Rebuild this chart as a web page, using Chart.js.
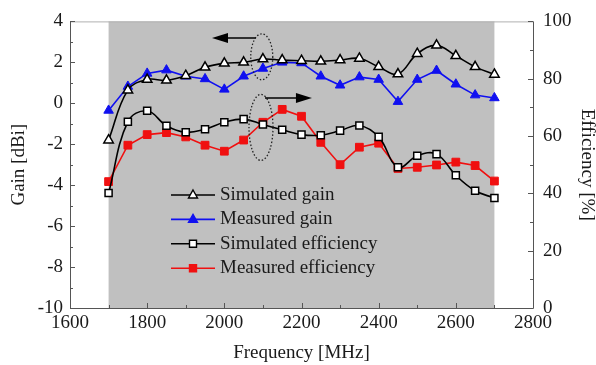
<!DOCTYPE html>
<html>
<head>
<meta charset="utf-8">
<script src="https://cdn.jsdelivr.net/npm/chart.js@4/dist/chart.umd.min.js"></script>
<style>
  html, body { margin: 0; padding: 0; background: #fff; }
</style>
</head>
<body>
<canvas id="grafica" width="596" height="365"></canvas>
<script>
// datos
const frecuencias = [1700, 1750, 1800, 1850, 1900, 1950, 2000, 2050, 2100, 2150, 2200,
                     2250, 2300, 2350, 2400, 2450, 2500, 2550, 2600, 2650, 2700];
const gananciaSimulada = [-1.8, 0.64, 1.16, 1.12, 1.35, 1.76, 1.95, 2.0, 2.16, 2.11, 2.08,
                          2.05, 2.11, 2.19, 1.78, 1.43, 2.42, 2.83, 2.32, 1.78, 1.41];
const gananciaMedida = [-0.35, 0.82, 1.46, 1.62, 1.32, 1.19, 0.68, 1.32, 1.70, 2.0, 1.97,
                        1.32, 0.88, 1.28, 1.16, 0.08, 1.16, 1.60, 0.93, 0.40, 0.26];
const eficienciaSimulada = [40.1, 65.0, 68.8, 63.6, 61.3, 62.4, 64.8, 65.9, 64.0, 62.2, 60.5,
                            60.3, 61.9, 63.7, 59.7, 49.1, 53.1, 53.7, 46.3, 40.9, 38.4];
const eficienciaMedida = [44.1, 56.8, 60.5, 61.2, 59.7, 56.8, 54.7, 58.6, 64.8, 69.3, 66.9,
                          57.8, 50.0, 56.1, 57.5, 48.7, 49.1, 49.9, 50.9, 49.7, 44.3];
const etiquetas = ["Simulated gain", "Measured gain", "Simulated efficiency", "Measured efficiency"];
const bandaGris = [1700, 2700];

const fuente = "'Liberation Serif', 'Times New Roman', serif";
Chart.defaults.font.family = fuente;
Chart.defaults.font.size = 19;
Chart.defaults.color = "#1a1a1a";

const puntos = arr => arr.map((v, i) => ({ x: frecuencias[i], y: v }));

// fondo gris, marco, ticks hacia dentro
const pluginFondo = {
  id: "fondo",
  beforeDatasetsDraw(chart) {
    const { ctx, chartArea: a, scales: { x } } = chart;
    const x0 = x.getPixelForValue(bandaGris[0]);
    const x1 = x.getPixelForValue(bandaGris[1]);
    ctx.save();
    ctx.fillStyle = "#c0c0c0";
    ctx.fillRect(x0, a.top, x1 - x0, a.bottom - a.top);
    ctx.restore();
  },
  afterDraw(chart) {
    const { ctx, chartArea: a, scales: { x, y, y2 } } = chart;
    ctx.save();
    ctx.strokeStyle = "#b0b0b0";
    ctx.lineWidth = 1;
    ctx.beginPath();
    ctx.moveTo(a.left, a.top + 0.5);
    ctx.lineTo(a.right, a.top + 0.5);
    ctx.stroke();
    ctx.strokeStyle = "#555";
    ctx.beginPath();
    ctx.moveTo(a.left + 0.5, a.top);
    ctx.lineTo(a.left + 0.5, a.bottom + 0.5);
    ctx.lineTo(a.right + 0.5, a.bottom + 0.5);
    ctx.lineTo(a.right + 0.5, a.top);
    ctx.stroke();
    ctx.beginPath();
    for (let v = -10; v <= 4; v += 1) {
      const py = Math.round(y.getPixelForValue(v)) + 0.5;
      ctx.moveTo(a.left, py);
      ctx.lineTo(a.left + (v % 2 === 0 ? 5 : 3), py);
    }
    for (let v = 0; v <= 100; v += 10) {
      const py = Math.round(y2.getPixelForValue(v)) + 0.5;
      ctx.moveTo(a.right, py);
      ctx.lineTo(a.right - (v % 20 === 0 ? 5 : 3), py);
    }
    for (let v = 1600; v <= 2800; v += 100) {
      const px = Math.round(x.getPixelForValue(v)) + 0.5;
      ctx.moveTo(px, a.bottom);
      ctx.lineTo(px, a.bottom - (v % 200 === 0 ? 5 : 3));
    }
    ctx.stroke();

    // flechas y elipses punteadas
    const elipse = (cx, cy, rx, ry) => {
      ctx.save();
      ctx.setLineDash([1.5, 2]);
      ctx.strokeStyle = "#222";
      ctx.lineWidth = 1.3;
      ctx.beginPath();
      ctx.ellipse(cx, cy, rx, ry, 0, 0, Math.PI * 2);
      ctx.stroke();
      ctx.restore();
    };
    const flecha = (xa, xb, py) => {
      ctx.save();
      ctx.strokeStyle = "#000";
      ctx.fillStyle = "#000";
      ctx.lineWidth = 1.5;
      const dir = Math.sign(xb - xa);
      ctx.beginPath();
      ctx.moveTo(xa, py);
      ctx.lineTo(xb - dir * 12, py);
      ctx.stroke();
      ctx.beginPath();
      ctx.moveTo(xb, py);
      ctx.lineTo(xb - dir * 16, py - 5);
      ctx.lineTo(xb - dir * 16, py + 5);
      ctx.closePath();
      ctx.fill();
      ctx.restore();
    };
    const e1x = x.getPixelForValue(2097), e1y = y.getPixelForValue(2.27);
    elipse(e1x, e1y, 11, 23);
    flecha(e1x - 6, x.getPixelForValue(1968), y.getPixelForValue(3.19));
    const e2x = x.getPixelForValue(2095), e2y = y2.getPixelForValue(63);
    elipse(e2x, e2y, 12, 33);
    flecha(e2x + 4, x.getPixelForValue(2227), y2.getPixelForValue(73.3));

    // leyenda
    chart.data.datasets.forEach((ds, i) => {
      const ly = 195 + i * 24.4;
      ctx.strokeStyle = ds.borderColor;
      ctx.lineWidth = 1.6;
      ctx.beginPath();
      ctx.moveTo(171, ly);
      ctx.lineTo(215, ly);
      ctx.stroke();
      ctx.fillStyle = ds.pointBackgroundColor;
      ctx.strokeStyle = ds.pointBorderColor;
      ctx.lineWidth = 1.4;
      ctx.beginPath();
      if (ds.pointStyle === "triangle") {
        ctx.moveTo(193, ly - 5);
        ctx.lineTo(197.5, ly + 3);
        ctx.lineTo(188.5, ly + 3);
        ctx.closePath();
      } else {
        ctx.rect(189.5, ly - 3.5, 7, 7);
      }
      ctx.fill();
      ctx.stroke();
      ctx.fillStyle = "#1a1a1a";
      ctx.font = "19px " + fuente;
      ctx.textBaseline = "middle";
      ctx.textAlign = "left";
      ctx.fillText(ds.label, 220, ly);
    });
    ctx.restore();
  }
};

new Chart(document.getElementById("grafica"), {
  type: "line",
  data: {
    datasets: [
      {
        label: etiquetas[0], data: puntos(gananciaSimulada), yAxisID: "y",
        borderColor: "#000", borderWidth: 1.6, tension: 0.4,
        pointStyle: "triangle", pointRadius: 5.5, pointBorderWidth: 1.5,
        pointBackgroundColor: "#fff", pointBorderColor: "#000"
      },
      {
        label: etiquetas[1], data: puntos(gananciaMedida), yAxisID: "y",
        borderColor: "#1010f0", borderWidth: 1.6, tension: 0,
        pointStyle: "triangle", pointRadius: 5.5, pointBorderWidth: 1,
        pointBackgroundColor: "#1010f0", pointBorderColor: "#1010f0"
      },
      {
        label: etiquetas[2], data: puntos(eficienciaSimulada), yAxisID: "y2",
        borderColor: "#000", borderWidth: 1.6, tension: 0.4,
        pointStyle: "rect", pointRadius: 5, pointBorderWidth: 1.5,
        pointBackgroundColor: "#fff", pointBorderColor: "#000"
      },
      {
        label: etiquetas[3], data: puntos(eficienciaMedida), yAxisID: "y2",
        borderColor: "#f01010", borderWidth: 1.6, tension: 0,
        pointStyle: "rect", pointRadius: 5.5, pointBorderWidth: 1,
        pointBackgroundColor: "#f01010", pointBorderColor: "#f01010"
      }
    ]
  },
  options: {
    responsive: false,
    animation: false,
    devicePixelRatio: 1,
    layout: { padding: { top: 16, left: 0, right: 0, bottom: 0 } },
    plugins: { legend: { display: false }, tooltip: { enabled: false } },
    scales: {
      x: {
        type: "linear", min: 1600, max: 2800,
        ticks: { stepSize: 200, padding: 4, maxRotation: 0, autoSkip: false,
                 callback: v => String(v) },
        grid: { display: false, drawTicks: false },
        border: { display: false },
        title: { display: true, text: "Frequency [MHz]", padding: { top: 0, bottom: 1 } },
        afterFit(s) { s.height = 57; }
      },
      y: {
        position: "left", min: -10, max: 4,
        ticks: { stepSize: 2, padding: 7 },
        grid: { display: false, drawTicks: false },
        border: { display: false },
        title: { display: true, text: "Gain [dBi]", padding: { top: 8, bottom: 0 } },
        afterFit(s) { s.width = 70; }
      },
      y2: {
        position: "right", min: 0, max: 100,
        ticks: { stepSize: 20, padding: 10 },
        grid: { display: false, drawTicks: false },
        border: { display: false },
        title: { display: true, text: "Efficiency [%]", padding: { top: -2, bottom: 0 } },
        afterFit(s) { s.width = 63; }
      }
    }
  },
  plugins: [pluginFondo]
});
</script>
</body>
</html>
